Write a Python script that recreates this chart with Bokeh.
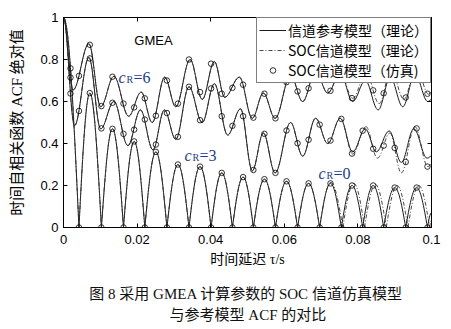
from bokeh.plotting import figure
from bokeh.layouts import column
from bokeh.models import (ColumnDataSource, Label, Legend, LegendItem,
                          FixedTicker, LinearAxis, Range1d)
from bokeh.embed import file_html
from bokeh.resources import INLINE

# ---- |ACF| curves, given by their turning points (tau in s) ----
# Rice factor cR = 6, reference model (theory)
tau_ref6 = [0.0, 0.0026, 0.0069, 0.0101, 0.0137, 0.0177, 0.0211, 0.0241, 0.0275, 0.0305,
            0.0344, 0.0377, 0.0410, 0.0438, 0.0478, 0.0513, 0.0543, 0.0575, 0.0617, 0.0650,
            0.0685, 0.0718, 0.0752, 0.0786, 0.0820, 0.0855, 0.0888, 0.0922, 0.0955, 0.0990, 0.1]
acf_ref6 = [1.0, 0.655, 0.875, 0.575, 0.720, 0.530, 0.645, 0.500, 0.716, 0.575,
            0.800, 0.610, 0.790, 0.620, 0.716, 0.520, 0.640, 0.520, 0.725, 0.600,
            0.745, 0.640, 0.735, 0.600, 0.700, 0.560, 0.715, 0.575, 0.730, 0.600, 0.610]
# SOC model (theory), cR = 6: departs from the reference after tau = 0.0752
tau_soc6_tail = [0.0786, 0.0822, 0.0858, 0.0890, 0.0925, 0.0958, 0.0992, 0.1]
acf_soc6_tail = [0.615, 0.735, 0.590, 0.750, 0.610, 0.765, 0.635, 0.645]

# Rice factor cR = 3
tau_ref3 = [0.0, 0.0030, 0.0069, 0.0101, 0.0137, 0.0175, 0.0209, 0.0243, 0.0274, 0.0305,
            0.0341, 0.0377, 0.0410, 0.0446, 0.0481, 0.0513, 0.0543, 0.0575, 0.0617, 0.0650,
            0.0685, 0.0718, 0.0752, 0.0786, 0.0820, 0.0850, 0.0885, 0.0918, 0.0952, 0.0988, 0.1]
acf_ref3 = [1.0, 0.485, 0.810, 0.470, 0.600, 0.390, 0.560, 0.370, 0.560, 0.420,
            0.670, 0.500, 0.685, 0.440, 0.565, 0.270, 0.450, 0.260, 0.500, 0.340,
            0.520, 0.400, 0.520, 0.360, 0.470, 0.360, 0.460, 0.310, 0.470, 0.330, 0.340]
tau_soc3_tail = [0.0786, 0.0822, 0.0853, 0.0887, 0.0918, 0.0955, 0.0990, 0.1]
acf_soc3_tail = [0.350, 0.480, 0.330, 0.450, 0.260, 0.480, 0.290, 0.300]

# Rice factor cR = 0 (zeros and lobe maxima)
tau_ref0 = [0.0, 0.0042, 0.00715, 0.0103, 0.0133, 0.0163, 0.0192, 0.0221, 0.0251, 0.0281,
            0.0311, 0.0341, 0.0371, 0.0401, 0.0430, 0.0459, 0.0488, 0.0516, 0.0546, 0.0576,
            0.0606, 0.0636, 0.0666, 0.0696, 0.07255, 0.0755, 0.0784, 0.0813, 0.08415, 0.0870,
            0.0900, 0.0930, 0.09595, 0.0989, 0.1]
acf_ref0 = [1.0, 0.0, 0.64, 0.0, 0.47, 0.0, 0.41, 0.0, 0.36, 0.0,
            0.30, 0.0, 0.29, 0.0, 0.26, 0.0, 0.24, 0.0, 0.23, 0.0,
            0.22, 0.0, 0.21, 0.0, 0.21, 0.0, 0.20, 0.0, 0.20, 0.0,
            0.19, 0.0, 0.19, 0.0, 0.07]
tau_soc0_tail = [0.07265, 0.0759, 0.0789, 0.0818, 0.08475, 0.0877, 0.09065, 0.0936, 0.09655, 0.0995, 0.1]
acf_soc0_tail = [0.215, 0.0, 0.21, 0.0, 0.205, 0.0, 0.20, 0.0, 0.20, 0.0, 0.035]

# SOC model (simulation) samples
tau_sim = [0.0019, 0.0042, 0.00715, 0.0103, 0.0133, 0.0163, 0.0192, 0.0221, 0.0251, 0.0281,
           0.0311, 0.0341, 0.0371, 0.0401, 0.0430, 0.0459, 0.0488, 0.0516, 0.0546, 0.0576,
           0.0606, 0.0636, 0.0666, 0.0696, 0.07255, 0.0755, 0.0784, 0.0813, 0.08415, 0.0870,
           0.0900, 0.0930, 0.09595, 0.0989]
sim6 = [0.714, 0.722, 0.870, 0.578, 0.718, 0.590, 0.572, 0.615, 0.532, 0.700,
        0.590, 0.800, 0.645, 0.780, 0.637, 0.665, 0.680, 0.523, 0.637, 0.520,
        0.692, 0.648, 0.663, 0.719, 0.651, 0.733, 0.616, 0.717, 0.653, 0.639,
        0.724, 0.619, 0.765, 0.637]
sim3 = [0.638, 0.555, 0.805, 0.472, 0.594, 0.446, 0.466, 0.514, 0.395, 0.545,
        0.432, 0.670, 0.511, 0.662, 0.530, 0.484, 0.530, 0.274, 0.446, 0.260,
        0.462, 0.401, 0.418, 0.490, 0.414, 0.517, 0.352, 0.461, 0.375, 0.390,
        0.379, 0.312, 0.472, 0.290]
sim0 = [0.758, 0.0, 0.64, 0.0, 0.47, 0.0, 0.41, 0.0, 0.36, 0.0,
        0.30, 0.0, 0.29, 0.0, 0.26, 0.0, 0.24, 0.0, 0.23, 0.0,
        0.22, 0.0, 0.21, 0.0, 0.21, 0.0, 0.20, 0.0, 0.20, 0.0,
        0.19, 0.0, 0.19, 0.0]

x_ticks = [0.0, 0.02, 0.04, 0.06, 0.08, 0.1]
x_tick_labels = ["0", "0.02", "0.04", "0.06", "0.08", "0.1"]
y_ticks = [0.0, 0.2, 0.4, 0.6, 0.8, 1.0]
y_tick_labels = ["0", "0.2", "0.4", "0.6", "0.8", "1"]

caption_lines = ["图 8  采用 GMEA 计算参数的 SOC 信道仿真模型", "与参考模型 ACF 的对比"]


def curve_source(taus, vals):
    """Cubic segments between turning points: flat tangent at maxima/minima,
    sine-like slope where the magnitude touches zero."""
    c = {k: [] for k in ("x0", "y0", "x1", "y1", "cx0", "cy0", "cx1", "cy1")}
    for ta, va, tb, vb in zip(taus[:-1], vals[:-1], taus[1:], vals[1:]):
        d = tb - ta
        if va == 0:
            k0, k1 = (ta + 0.334 * d, 0.525 * vb), (tb - 0.3605 * d, vb)
        elif vb == 0:
            k0, k1 = (ta + 0.3605 * d, va), (tb - 0.334 * d, 0.525 * va)
        else:
            k0, k1 = (ta + 0.364 * d, va), (tb - 0.364 * d, vb)
        c["x0"].append(ta); c["y0"].append(va)
        c["x1"].append(tb); c["y1"].append(vb)
        c["cx0"].append(k0[0]); c["cy0"].append(k0[1])
        c["cx1"].append(k1[0]); c["cy1"].append(k1[1])
    return ColumnDataSource(c)


SANS = "Liberation Sans"
CJK = "Noto Sans CJK SC"
SERIF_CJK = "Liberation Serif, Noto Sans CJK SC"

p = figure(width=451, height=280, x_range=Range1d(0, 0.1), y_range=Range1d(0, 1),
           output_backend="svg", toolbar_location=None,
           min_border_left=63, min_border_right=20, min_border_top=17, min_border_bottom=53)
p.grid.visible = False
p.outline_line_color = "black"
p.background_fill_color = "white"
p.border_fill_color = "white"

for ax in (p.xaxis[0], p.yaxis[0]):
    ax.major_tick_in = 4
    ax.major_tick_out = 0
    ax.minor_tick_line_color = None
    ax.axis_line_color = "black"
    ax.major_tick_line_color = "black"
    ax.major_label_text_font = SANS
    ax.major_label_text_font_size = "13px"
    ax.major_label_text_color = "black"
    ax.axis_label_text_font = SERIF_CJK
    ax.axis_label_text_font_style = "normal"
    ax.axis_label_text_color = "black"

p.xaxis.ticker = FixedTicker(ticks=x_ticks)
p.xaxis.major_label_overrides = dict(zip(x_ticks, x_tick_labels))
p.xaxis.major_label_standoff = 7
p.xaxis.axis_label = "时间延迟 τ/s"
p.xaxis.axis_label_text_font_size = "14px"
p.xaxis.axis_label_standoff = 5
p.yaxis.ticker = FixedTicker(ticks=y_ticks)
p.yaxis.major_label_overrides = dict(zip(y_ticks, y_tick_labels))
p.yaxis.major_label_standoff = 5
p.yaxis.axis_label = "时间自相关函数 ACF 绝对值"
p.yaxis.axis_label_text_font_size = "15px"
p.yaxis.axis_label_standoff = 12

# tick marks along the top and right edges of the box (no labels there)
for place, ticks in (("above", x_ticks), ("right", y_ticks)):
    ax = LinearAxis(ticker=FixedTicker(ticks=ticks), major_tick_in=4, major_tick_out=0,
                    minor_tick_line_color=None, major_label_text_font_size="1px",
                    major_label_text_color=None, major_label_standoff=0,
                    axis_line_color="black")
    p.add_layout(ax, place)

LINE = "#1a1a1a"
ref_renderers, soc_renderers = [], []
for taus, vals in ((tau_ref6, acf_ref6), (tau_ref3, acf_ref3), (tau_ref0, acf_ref0)):
    ref_renderers.append(p.bezier(x0="x0", y0="y0", x1="x1", y1="y1", cx0="cx0", cy0="cy0",
                                  cx1="cx1", cy1="cy1", source=curve_source(taus, vals),
                                  line_color=LINE, line_width=1))

soc_curves = (
    (tau_ref6[:23] + tau_soc6_tail, acf_ref6[:23] + acf_soc6_tail),
    (tau_ref3[:23] + tau_soc3_tail, acf_ref3[:23] + acf_soc3_tail),
    (tau_ref0[:24] + tau_soc0_tail, acf_ref0[:24] + acf_soc0_tail),
)
for taus, vals in soc_curves:
    soc_renderers.append(p.bezier(x0="x0", y0="y0", x1="x1", y1="y1", cx0="cx0", cy0="cy0",
                                  cx1="cx1", cy1="cy1", source=curve_source(taus, vals),
                                  line_color="#333333", line_width=0.9, line_dash="4 2 1 2"))

sim_src = ColumnDataSource(dict(x=tau_sim * 3, y=sim6 + sim3 + sim0))
sim_r = p.scatter("x", "y", source=sim_src, marker="circle", size=5.5,
                  fill_color=None, line_color="black", line_width=0.8)

legend = Legend(items=[
    LegendItem(label="信道参考模型（理论）", renderers=[ref_renderers[0]]),
    LegendItem(label="SOC信道模型（理论）", renderers=[soc_renderers[0]]),
    LegendItem(label="SOC信道模型（仿真)", renderers=[sim_r]),
], location="top_right", margin=0, padding=2, spacing=0, label_height=18,
    glyph_width=27, glyph_height=14, label_standoff=2,
    label_text_font=CJK, label_text_font_size="14px", label_text_color="black",
    border_line_color="black", border_line_width=1, background_fill_alpha=1.0)
p.add_layout(legend)

# curve annotations
p.add_layout(Label(x=0.02446, y=0.890, text="GMEA", text_font=SANS, text_font_size="13px",
                   text_align="center", text_baseline="middle", text_color="black"))

BLUE = "#1d3c8f"
for tau0, v0, num in ((0.01495, 0.714, "=6"), (0.0329, 0.343, "=3"), (0.0693, 0.257, "=0")):
    p.add_layout(Label(x=tau0, y=v0, text="c", text_font="Liberation Serif",
                       text_font_style="italic", text_font_size="16px", text_color=BLUE,
                       text_baseline="alphabetic"))
    p.add_layout(Label(x=tau0, y=v0, x_offset=8, y_offset=-2, text="R",
                       text_font="Liberation Serif", text_font_size="10px",
                       text_color=BLUE, text_baseline="alphabetic"))
    p.add_layout(Label(x=tau0, y=v0, x_offset=15, text=num, text_font="Liberation Serif",
                       text_font_size="16px", text_color=BLUE, text_baseline="alphabetic"))

# figure caption, set in its own strip under the plot (pixel coordinates)
cap = figure(width=451, height=49, x_range=Range1d(0, 451), y_range=Range1d(0, 49),
             output_backend="svg", toolbar_location=None,
             min_border_left=0, min_border_right=0, min_border_top=0, min_border_bottom=0)
cap.axis.visible = False
cap.grid.visible = False
cap.outline_line_color = None
cap.background_fill_color = "white"
cap.border_fill_color = "white"
for yc, line in zip((36, 15), caption_lines):
    cap.add_layout(Label(x=226, y=yc, text=line, text_font=SERIF_CJK, text_font_size="15px",
                         text_color="#111111", text_align="center", text_baseline="middle"))

open("out.html", "w").write(file_html(column(p, cap, spacing=0), INLINE))
